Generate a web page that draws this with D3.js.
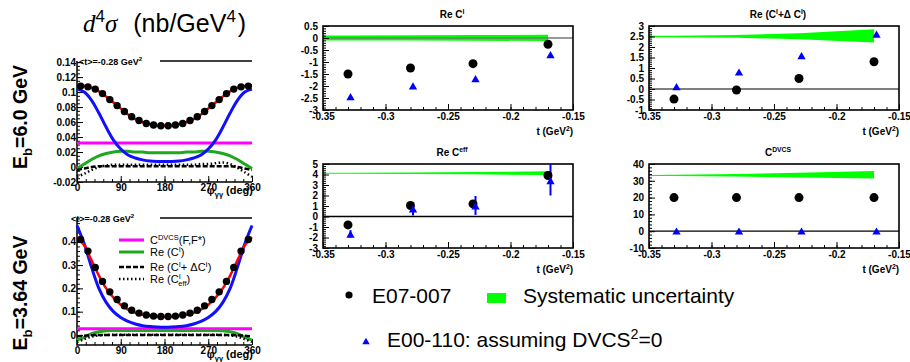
<!DOCTYPE html>
<html>
<head>
<meta charset="utf-8">
<script src="https://cdn.jsdelivr.net/npm/d3@7"></script>
<style>
  body { margin: 0; background: #fff; }
  svg { display: block; }
  text { font-family: "Liberation Sans", Arial, sans-serif; }
</style>
</head>
<body>
<svg id="chart" width="910" height="362"></svg>
<script>
// ---------- data: t-dependence panels ----------
const tE07 = [-0.33, -0.28, -0.23, -0.17];
const tE00 = [-0.328, -0.278, -0.228, -0.168];
const tBand = [-0.35, -0.33, -0.28, -0.23, -0.17];
const tTicks = [-0.35, -0.3, -0.25, -0.2, -0.15];

const reCI_E07 = [-1.5, -1.25, -1.07, -0.26];
const reCI_E00 = [-2.45, -2.0, -1.7, -0.7];
const reCI_bandLo = [-0.1, -0.1, -0.1, -0.11, -0.13];
const reCI_bandHi = [0.1, 0.1, 0.11, 0.12, 0.14];

const reCIdC_E07 = [-0.48, -0.05, 0.5, 1.3];
const reCIdC_E00 = [0.1, 0.8, 1.58, 2.6];
const reCIdC_bandLo = [2.47, 2.47, 2.44, 2.37, 2.22];
const reCIdC_bandHi = [2.53, 2.53, 2.57, 2.66, 2.85];

const reCeff_E07 = [-0.8, 1.05, 1.2, 3.9];
const reCeff_E00 = [-1.7, 0.7, 1.0, 3.4];
const reCeff_E00lo = [-2.0, 0.1, 0.15, 2.0];
const reCeff_E00hi = [-1.3, 1.35, 1.95, 5.2];
const reCeff_bandLo = [4.07, 4.07, 4.05, 4.02, 3.95];
const reCeff_bandHi = [4.16, 4.17, 4.2, 4.23, 4.3];

const cDVCS_E07 = [20, 20, 20, 20];
const cDVCS_E00 = [0, 0, 0, 0];
const cDVCS_bandLo = [32.8, 32.8, 32.5, 32.0, 31.4];
const cDVCS_bandHi = [33.5, 33.6, 34.0, 34.8, 35.8];

// ---------- data: phi distributions ----------
const phiBins = [7.5, 22.5, 37.5, 52.5, 67.5, 82.5, 97.5, 112.5, 127.5, 142.5, 157.5, 172.5,
                 187.5, 202.5, 217.5, 232.5, 247.5, 262.5, 277.5, 292.5, 307.5, 322.5, 337.5, 352.5];
const phiGrid = [0, 15, 30, 45, 60, 75, 90, 105, 120, 135, 150, 165, 180,
                 195, 210, 225, 240, 255, 270, 285, 300, 315, 330, 345, 360];
const phiTicks = [0, 90, 180, 270, 360];

// E_b = 6.0 GeV
const xs60 = [0.108, 0.107, 0.104, 0.098, 0.090, 0.082, 0.074, 0.067, 0.062, 0.058, 0.056, 0.055,
              0.055, 0.056, 0.058, 0.062, 0.067, 0.074, 0.082, 0.090, 0.098, 0.104, 0.107, 0.108];
const fit60 = [0.109, 0.108, 0.106, 0.101, 0.094, 0.086, 0.078, 0.070, 0.064, 0.060, 0.057, 0.055, 0.055,
               0.055, 0.057, 0.060, 0.064, 0.070, 0.078, 0.086, 0.094, 0.101, 0.106, 0.108, 0.109];
const bh60 = [0.104, 0.100, 0.089, 0.072, 0.053, 0.036, 0.024, 0.016, 0.012, 0.0095, 0.008, 0.0075, 0.0075,
              0.0075, 0.008, 0.0095, 0.012, 0.016, 0.024, 0.036, 0.053, 0.072, 0.089, 0.100, 0.104];
const dvcs60 = 0.032;
const reCI60 = [-0.002, 0.004, 0.010, 0.015, 0.018, 0.020, 0.021, 0.021, 0.020, 0.020, 0.019, 0.019, 0.019,
                0.019, 0.019, 0.020, 0.020, 0.021, 0.021, 0.020, 0.018, 0.015, 0.010, 0.004, -0.002];
const reCIdC60 = [-0.004, -0.002, 0, 0.001, 0.001, 0.001, 0.001, 0.001, 0.001, 0.001, 0.001, 0.001, 0.001,
                  0.001, 0.001, 0.001, 0.001, 0.001, 0.001, 0.001, 0.001, 0.001, 0, -0.002, -0.004];
const reCeff60 = [-0.013, -0.009, -0.004, 0, 0.002, 0.003, 0.003, 0.003, 0.003, 0.003, 0.003, 0.003, 0.003,
                  0.003, 0.003, 0.003, 0.003, 0.004, 0.004, 0.005, 0.006, 0.004, -0.001, -0.007, -0.013];

// E_b = 3.64 GeV
const xs364 = [0.41, 0.36, 0.29, 0.23, 0.185, 0.152, 0.125, 0.106, 0.094, 0.086, 0.081, 0.079,
               0.079, 0.081, 0.086, 0.094, 0.106, 0.125, 0.152, 0.185, 0.23, 0.29, 0.36, 0.41];
const fit364 = [0.42, 0.385, 0.32, 0.255, 0.2, 0.16, 0.13, 0.109, 0.095, 0.087, 0.081, 0.078, 0.077,
                0.078, 0.081, 0.087, 0.095, 0.109, 0.13, 0.16, 0.2, 0.255, 0.32, 0.385, 0.42];
const bh364 = [0.47, 0.39, 0.29, 0.2, 0.14, 0.1, 0.075, 0.058, 0.047, 0.04, 0.036, 0.034, 0.033,
               0.034, 0.036, 0.04, 0.047, 0.058, 0.075, 0.1, 0.14, 0.2, 0.29, 0.39, 0.47];
const dvcs364 = 0.027;
const reCI364 = [-0.022, -0.01, 0.006, 0.014, 0.018, 0.019, 0.019, 0.019, 0.019, 0.019, 0.019, 0.019, 0.019,
                 0.019, 0.019, 0.019, 0.019, 0.019, 0.019, 0.019, 0.018, 0.014, 0.006, -0.01, -0.022];
const reCIdC364 = [-0.006, -0.003, -0.001, 0, 0, 0, 0, 0, 0, 0, 0, 0, 0,
                   0, 0, 0, 0, 0, 0, 0, 0, 0, -0.001, -0.003, -0.006];
const reCeff364 = [-0.03, -0.018, -0.007, -0.002, 0, 0.001, 0.001, 0.001, 0.001, 0.001, 0.001, 0.001, 0.001,
                   0.001, 0.001, 0.001, 0.001, 0.001, 0.001, 0.001, 0, -0.002, -0.007, -0.018, -0.03];

const svg = d3.select("#chart");
const fmt = d => String(+(+d).toFixed(2));

// text with sub/superscripts: parts = [{t, sup?, sub?, dx?, font?, italic?}]
function rich(text, parts, fs) {
  let shift = 0;
  parts.forEach(p => {
    const target = p.sup ? -fs * 0.4 : p.sub ? fs * 0.28 : 0;
    const ts = text.append("tspan").attr("dy", target - shift).text(p.t);
    if (p.sup || p.sub) ts.attr("font-size", fs * 0.68);
    if (p.dx) ts.attr("dx", p.dx);
    if (p.font) ts.style("font-family", p.font);
    if (p.italic) ts.attr("font-style", "italic");
    shift = target;
  });
  return text;
}

// ---------- t panels ----------
const tPanels = [
  { x0: 323, x1: 573, y0: 26, y1: 110, dom: [-3, 0.5], step: 0.5, minor: 0.1, zero: "#777",
    title: [{t: "Re C"}, {t: "I", sup: true}],
    e07: reCI_E07, e00: reCI_E00, lo: reCI_bandLo, hi: reCI_bandHi },
  { x0: 649, x1: 899, y0: 26, y1: 110, dom: [-1, 3], step: 0.5, minor: 0.1, zero: "#555",
    title: [{t: "Re (C"}, {t: "I", sup: true}, {t: "+\u0394 C"}, {t: "I", sup: true}, {t: ")"}],
    e07: reCIdC_E07, e00: reCIdC_E00, lo: reCIdC_bandLo, hi: reCIdC_bandHi },
  { x0: 323, x1: 573, y0: 164, y1: 248, dom: [-3, 5], step: 1, minor: 0.2, zero: "#000",
    title: [{t: "Re C"}, {t: "eff", sup: true}],
    e07: reCeff_E07, e00: reCeff_E00, lo: reCeff_bandLo, hi: reCeff_bandHi,
    errLo: reCeff_E00lo, errHi: reCeff_E00hi },
  { x0: 649, x1: 899, y0: 164, y1: 248, dom: [-10, 40], step: 10, minor: 2, zero: "#000",
    title: [{t: "C"}, {t: "DVCS", sup: true}],
    e07: cDVCS_E07, e00: cDVCS_E00, lo: cDVCS_bandLo, hi: cDVCS_bandHi }
];

const tri = d3.symbol(d3.symbolTriangle).size(30);

tPanels.forEach(p => {
  const x = d3.scaleLinear().domain([-0.35, -0.15]).range([p.x0, p.x1]);
  const y = d3.scaleLinear().domain(p.dom).range([p.y1, p.y0]);
  const g = svg.append("g");

  // band
  g.append("path")
    .datum(tBand.map((t, i) => [t, p.lo[i], p.hi[i]]))
    .attr("fill", "#00ff00")
    .attr("d", d3.area().x(d => x(d[0])).y0(d => y(d[1])).y1(d => y(d[2])));

  // zero line
  g.append("line")
    .attr("x1", p.x0).attr("x2", p.x1).attr("y1", y(0)).attr("y2", y(0))
    .attr("stroke", p.zero).attr("stroke-width", 1.3);

  // axes (ticks pointing inward)
  const yMajor = d3.range(p.dom[0], p.dom[1] + 1e-9, p.step);
  const yMin = d3.range(p.dom[0], p.dom[1] + 1e-9, p.minor);
  const xMin = d3.range(-0.35, -0.15 + 1e-9, 0.01);
  const ax = g.append("g").attr("font-weight", "bold");
  ax.append("g").attr("transform", `translate(0,${p.y1})`)
    .call(d3.axisBottom(x).tickValues(xMin).tickSize(-3).tickFormat(""));
  ax.append("g").attr("transform", `translate(0,${p.y1})`)
    .call(d3.axisBottom(x).tickValues(tTicks).tickSize(-6).tickPadding(3).tickFormat(fmt));
  ax.append("g").attr("transform", `translate(${p.x0},0)`)
    .call(d3.axisLeft(y).tickValues(yMin).tickSize(-3).tickFormat(""));
  ax.append("g").attr("transform", `translate(${p.x0},0)`)
    .call(d3.axisLeft(y).tickValues(yMajor).tickSize(-6).tickPadding(5).tickFormat(fmt));
  ax.selectAll(".domain").remove();
  ax.selectAll("text").attr("font-size", 10).attr("font-family", "Liberation Sans, Arial, sans-serif");
  ax.selectAll("line").attr("stroke-width", 1);

  // frame
  g.append("rect").attr("x", p.x0).attr("y", p.y0)
    .attr("width", p.x1 - p.x0).attr("height", p.y1 - p.y0)
    .attr("fill", "none").attr("stroke", "#000").attr("stroke-width", 1.6);

  // error bars
  if (p.errLo) {
    g.selectAll(".err").data(tE00).enter().append("line")
      .attr("x1", d => x(d)).attr("x2", d => x(d))
      .attr("y1", (d, i) => y(Math.max(p.errLo[i], p.dom[0])))
      .attr("y2", (d, i) => y(Math.min(p.errHi[i], p.dom[1])))
      .attr("stroke", "#0000ff").attr("stroke-width", 2);
  }
  // E07-007 circles
  g.selectAll(".c07").data(tE07).enter().append("circle")
    .attr("cx", d => x(d)).attr("cy", (d, i) => y(p.e07[i]))
    .attr("r", 4.5).attr("fill", "#000");
  // E00-110 triangles
  g.selectAll(".t00").data(tE00).enter().append("path")
    .attr("d", tri)
    .attr("transform", (d, i) => `translate(${x(d)},${y(p.e00[i]) + 1})`)
    .attr("fill", "#0000ff");

  // titles
  rich(g.append("text").attr("x", (p.x0 + p.x1) / 2 + 4).attr("y", p.y0 - 8)
    .attr("text-anchor", "middle").attr("font-size", 10).attr("font-weight", "bold"), p.title, 10);
  rich(g.append("text").attr("x", p.x1).attr("y", p.y1 + 25)
    .attr("text-anchor", "end").attr("font-size", 10).attr("font-weight", "bold"),
    [{t: "t (GeV"}, {t: "2", sup: true}, {t: ")"}], 10);
});

// ---------- phi panels ----------
const phiPanels = [
  { y0: 61, y1: 182, dom: [-0.02, 0.1415], ticks: [-0.02, 0, 0.02, 0.04, 0.06, 0.08, 0.1, 0.12, 0.14],
    minor: 0.005, labelX: 79, titleY: 194,
    xs: xs60, fit: fit60, bh: bh60, dvcs: dvcs60, ci: reCI60, cidc: reCIdC60, ceff: reCeff60 },
  { y0: 218, y1: 345, dom: [-0.043, 0.502], ticks: [0, 0.1, 0.2, 0.3, 0.4],
    minor: 0.02, labelX: 71, titleY: 358,
    xs: xs364, fit: fit364, bh: bh364, dvcs: dvcs364, ci: reCI364, cidc: reCIdC364, ceff: reCeff364 }
];
const cBlue = "#1010ff", cGreen = "#1fa81f", cMag = "#ff00ff", cRed = "#ff0000";

phiPanels.forEach((p, k) => {
  const x = d3.scaleLinear().domain([0, 360]).range([77, 252]);
  const y = d3.scaleLinear().domain(p.dom).range([p.y1, p.y0]);
  const g = svg.append("g");
  const line = d3.line().x((d, i) => x(phiGrid[i])).y(d => y(d)).curve(d3.curveCatmullRom);

  // axes
  const ax = g.append("g").attr("font-weight", "bold");
  ax.append("g").attr("transform", `translate(0,${p.y1})`)
    .call(d3.axisBottom(x).tickValues(d3.range(0, 361, 18)).tickSize(-3).tickFormat(""));
  ax.append("g").attr("transform", `translate(0,${p.y1})`)
    .call(d3.axisBottom(x).tickValues(phiTicks).tickSize(-6).tickPadding(2).tickFormat(fmt));
  ax.append("g").attr("transform", "translate(77,0)")
    .call(d3.axisLeft(y).tickValues(d3.range(p.ticks[0], p.dom[1], p.minor)).tickSize(-3).tickFormat(""));
  ax.append("g").attr("transform", "translate(77,0)")
    .call(d3.axisLeft(y).tickValues(p.ticks).tickSize(-6).tickPadding(1).tickFormat(fmt));
  ax.selectAll(".domain").remove();
  ax.selectAll("text").attr("font-size", 10).attr("font-family", "Liberation Sans, Arial, sans-serif");
  ax.selectAll("line").attr("stroke-width", 1);
  g.append("path").attr("d", `M77,${p.y0}V${p.y1}H252`)
    .attr("fill", "none").attr("stroke", "#000").attr("stroke-width", 1.5);
  g.append("line").attr("x1", 160).attr("x2", 252).attr("y1", p.y0).attr("y2", p.y0)
    .attr("stroke", "#000").attr("stroke-width", 1.5);

  // model curves
  g.append("line").attr("x1", x(0)).attr("x2", x(360)).attr("y1", y(p.dvcs)).attr("y2", y(p.dvcs))
    .attr("stroke", cMag).attr("stroke-width", 3);
  g.append("path").datum(p.ci).attr("d", line).attr("fill", "none")
    .attr("stroke", cGreen).attr("stroke-width", 3);
  g.append("path").datum(p.cidc).attr("d", line).attr("fill", "none")
    .attr("stroke", "#000").attr("stroke-width", 2.5).attr("stroke-dasharray", "5,2");
  g.append("path").datum(p.ceff).attr("d", line).attr("fill", "none")
    .attr("stroke", "#000").attr("stroke-width", 2.5).attr("stroke-dasharray", "1.5,2.5");
  g.append("path").datum(p.bh).attr("d", line).attr("fill", "none")
    .attr("stroke", cBlue).attr("stroke-width", 3);
  g.append("path").datum(p.fit).attr("d", line).attr("fill", "none")
    .attr("stroke", cRed).attr("stroke-width", 2.5);
  g.selectAll(".pt").data(phiBins).enter().append("circle")
    .attr("cx", d => x(d)).attr("cy", (d, i) => y(p.xs[i]))
    .attr("r", 3.7).attr("fill", "#000");

  // <t> label
  rich(g.append("text").attr("x", p.labelX).attr("y", p.y0 + 4)
    .attr("font-size", 9).attr("font-weight", "bold"),
    [{t: "<t>=-0.28 GeV"}, {t: "2", sup: true}], 9);

  // x axis title
  rich(g.append("text").attr("x", 253).attr("y", p.titleY)
    .attr("text-anchor", "end").attr("font-size", 11).attr("font-weight", "bold"),
    [{t: "\u03c6"}, {t: "\u03b3\u03b3", sub: true}, {t: " (deg)"}], 11);

  // beam energy label
  rich(svg.append("text")
    .attr("transform", `translate(27,${k === 0 ? 117 : 293}) rotate(-90)`)
    .attr("text-anchor", "middle").attr("font-size", 19.5).attr("font-weight", "bold"),
    [{t: "E"}, {t: "b", sub: true}, {t: k === 0 ? "=6.0 GeV" : "=3.64 GeV"}], 19.5);

  // legend (lower panel)
  if (k === 1) {
    const leg = [
      { y: 240, stroke: cMag, dash: null, w: 3,
        parts: [{t: "C"}, {t: "DVCS", sup: true}, {t: "(F,F*)"}] },
      { y: 252, stroke: cGreen, dash: null, w: 3,
        parts: [{t: "Re (C"}, {t: "I", sup: true}, {t: ")"}] },
      { y: 267, stroke: "#000", dash: "5,2", w: 2.5,
        parts: [{t: "Re (C"}, {t: "I", sup: true}, {t: "+ \u0394C"}, {t: "I", sup: true}, {t: ")"}] },
      { y: 279, stroke: "#000", dash: "1.5,2.5", w: 2.5,
        parts: [{t: "Re (C"}, {t: "I", sup: true}, {t: "eff", sub: true, dx: -2.5}, {t: ")"}] }
    ];
    leg.forEach(l => {
      g.append("line").attr("x1", 119).attr("x2", 144).attr("y1", l.y).attr("y2", l.y)
        .attr("stroke", l.stroke).attr("stroke-width", l.w).attr("stroke-dasharray", l.dash);
      rich(g.append("text").attr("x", 150).attr("y", l.y + 4).attr("font-size", 11), l.parts, 11);
    });
  }
});

// main left title
rich(svg.append("text").attr("x", 83).attr("y", 32).attr("font-size", 25),
  [{t: "d", font: "Liberation Serif", italic: true}, {t: "4", sup: true},
   {t: "\u03c3", font: "Liberation Serif", italic: true}, {t: " (nb/GeV", dx: 9}, {t: "4", sup: true}, {t: ")", dx: 2}], 25);

// ---------- bottom legend ----------
svg.append("circle").attr("cx", 349).attr("cy", 295).attr("r", 3.6).attr("fill", "#000");
svg.append("text").attr("x", 372).attr("y", 303).attr("font-size", 21).text("E07-007");
svg.append("rect").attr("x", 487).attr("y", 293).attr("width", 19).attr("height", 10).attr("fill", "#00ff00");
svg.append("text").attr("x", 523).attr("y", 303).attr("font-size", 21).text("Systematic uncertainty");
svg.append("path").attr("d", d3.symbol(d3.symbolTriangle).size(24))
  .attr("transform", "translate(366,342)").attr("fill", "#0000ff");
rich(svg.append("text").attr("x", 387).attr("y", 347).attr("font-size", 21),
  [{t: "E00-110: assuming DVCS"}, {t: "2", sup: true}, {t: "=0"}], 21);
</script>
</body>
</html>
